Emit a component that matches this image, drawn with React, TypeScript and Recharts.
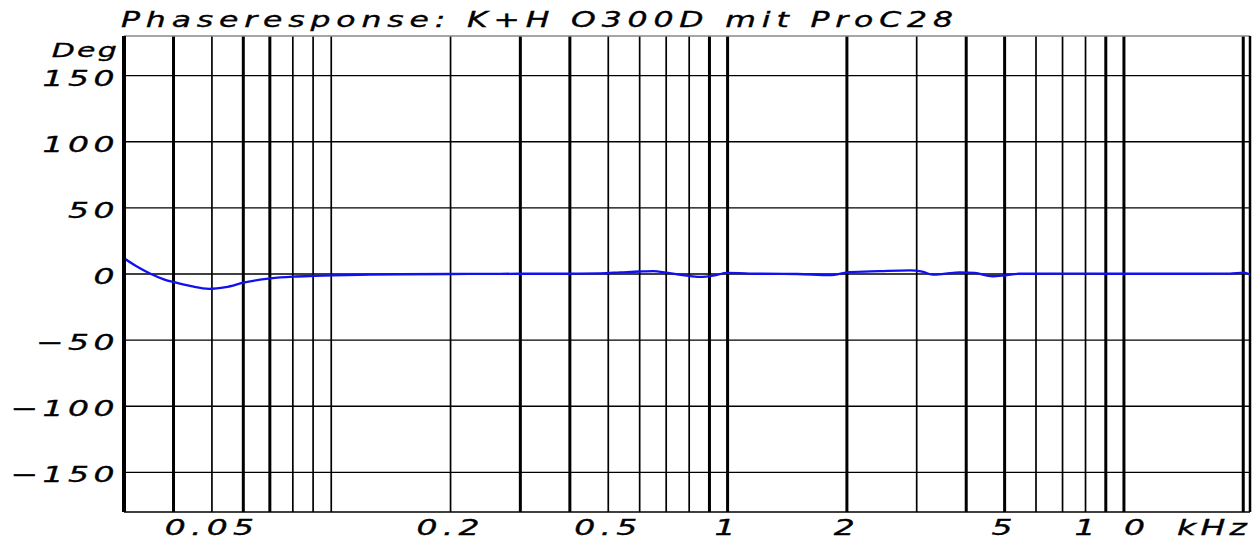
import React from 'react';
import { LineChart, Line, XAxis, YAxis, ReferenceLine } from 'recharts';

// frequency in kHz, phase in degrees
const freqKHz = [
  0.03, 0.0325, 0.0351, 0.0378, 0.0404, 0.0443, 0.0491, 0.0542, 0.0605, 0.0703,
  0.0802, 0.0905, 0.101, 0.125, 0.15, 0.2, 0.25, 0.3, 0.378, 0.477,
  0.536, 0.6, 0.65, 0.7, 0.78, 0.852, 0.929, 0.996, 1.2, 1.5,
  1.81, 2.03, 2.42, 2.88, 3.1, 3.29, 3.55, 3.85, 4.2, 4.66,
  5.0, 5.45, 7.0, 9.4, 11.6, 15.5, 18.5, 20.1, 20.8,
];
const phaseDeg = [
  11.9, 5.3, 0, -4.0, -6.4, -9.2, -11.2, -9.9, -6.3, -3.3,
  -2.0, -1.4, -1.0, -0.5, -0.2, 0, 0.1, 0.2, 0.2, 0.5,
  1.2, 1.9, 2.2, 1.0, -1.0, -2.2, -1.0, 0.8, 0.2, 0,
  -0.8, 1.4, 2.2, 2.8, 1.8, -0.5, 0.3, 1.2, 0.8, -1.7,
  -1.0, 0.2, 0.3, 0.2, 0.2, 0.2, 0.3, 1.0, -0.3,
];

const yTicks = [-150, -100, -50, 0, 50, 100, 150];
const xTicks = [0.05, 0.2, 0.5, 1, 2, 5, 10];
const xTickLabels = ['0.05', '0.2', '0.5', '1', '2', '5', '10'];
const gridFreqs = [
  0.04, 0.05, 0.06, 0.07, 0.08, 0.09, 0.1, 0.2, 0.3, 0.4, 0.5, 0.6, 0.7, 0.8, 0.9,
  1, 2, 3, 4, 5, 6, 7, 8, 9, 10, 20,
];
const heavyGrid = [0.04, 0.06, 0.07, 0.3, 0.4, 0.9, 1, 2, 4, 5, 9, 10, 20];

const data = freqKHz.map((f, i) => ({ f, phase: phaseDeg[i] }));

const FONT = 'DejaVu Sans, sans-serif';
const SX = 1.5;
const textStyle = {
  fontFamily: FONT,
  fontStyle: 'italic' as const,
  fill: '#000',
  stroke: '#000',
  strokeWidth: 0.35,
};

const XTick = (props: any) => {
  const { x, payload } = props;
  const idx = xTicks.indexOf(payload.value);
  const label = idx >= 0 ? xTickLabels[idx] : String(payload.value);
  const ls = label === '10' ? 19 : 3.5;
  return (
    <text
      transform={`translate(${x},535) scale(${SX},1)`}
      textAnchor="middle"
      fontSize={22}
      letterSpacing={ls}
      {...textStyle}
    >
      {label}
    </text>
  );
};

const YTick = (props: any) => {
  const { y, payload } = props;
  const v = payload.value as number;
  const label = v < 0 ? `\u2212${Math.abs(v)}` : String(v);
  return (
    <text
      transform={`translate(119,${y + 10}) scale(${SX},1)`}
      textAnchor="end"
      fontSize={22}
      letterSpacing={3}
      {...textStyle}
    >
      {label}
    </text>
  );
};

export default function App() {
  return (
    <div style={{ position: 'absolute', left: 0, top: 0, width: 1255, height: 544, background: '#fff' }}>
      <LineChart width={1255} height={544} data={data} margin={{ top: 36, right: 5, bottom: 0, left: 0 }}>
        <XAxis
          dataKey="f"
          type="number"
          scale="log"
          domain={[0.03, 20.8]}
          allowDataOverflow
          ticks={xTicks}
          tick={<XTick />}
          tickLine={false}
          axisLine={{ stroke: '#000', strokeWidth: 1.5 }}
          height={32}
        />
        <YAxis
          type="number"
          domain={[-180, 180]}
          ticks={yTicks}
          tick={<YTick />}
          tickLine={false}
          axisLine={{ stroke: '#000', strokeWidth: 4 }}
          width={124}
        />
        {yTicks.map((v) => (
          <ReferenceLine key={'h' + v} y={v} stroke="#000" strokeWidth={1.4} />
        ))}
        {gridFreqs.map((f) => (
          <ReferenceLine
            key={'v' + f}
            x={f}
            stroke="#000"
            strokeWidth={heavyGrid.includes(f) ? 3 : 1.7}
          />
        ))}
        <ReferenceLine y={180} stroke="#888" strokeWidth={1.5} />
        <ReferenceLine x={20.8} stroke="#000" strokeWidth={2.5} />
        <Line
          type="monotone"
          dataKey="phase"
          stroke="#1010f0"
          strokeWidth={2.3}
          dot={false}
          isAnimationActive={false}
        />
      </LineChart>
      <svg
        width={1255}
        height={544}
        style={{ position: 'absolute', left: 0, top: 0, pointerEvents: 'none' }}
      >
        <text
          transform={`translate(121,26.5) scale(${SX},1)`}
          fontSize={21}
          letterSpacing={3.9}
          {...textStyle}
        >
          Phaseresponse: K+H O300D mit ProC28
        </text>
        <text
          transform={`translate(119,56.5) scale(${SX},1)`}
          textAnchor="end"
          fontSize={20}
          letterSpacing={1.5}
          {...textStyle}
        >
          Deg
        </text>
        <text
          transform={`translate(1177,535) scale(${SX},1)`}
          fontSize={22}
          letterSpacing={2.9}
          {...textStyle}
        >
          kHz
        </text>
      </svg>
    </div>
  );
}
